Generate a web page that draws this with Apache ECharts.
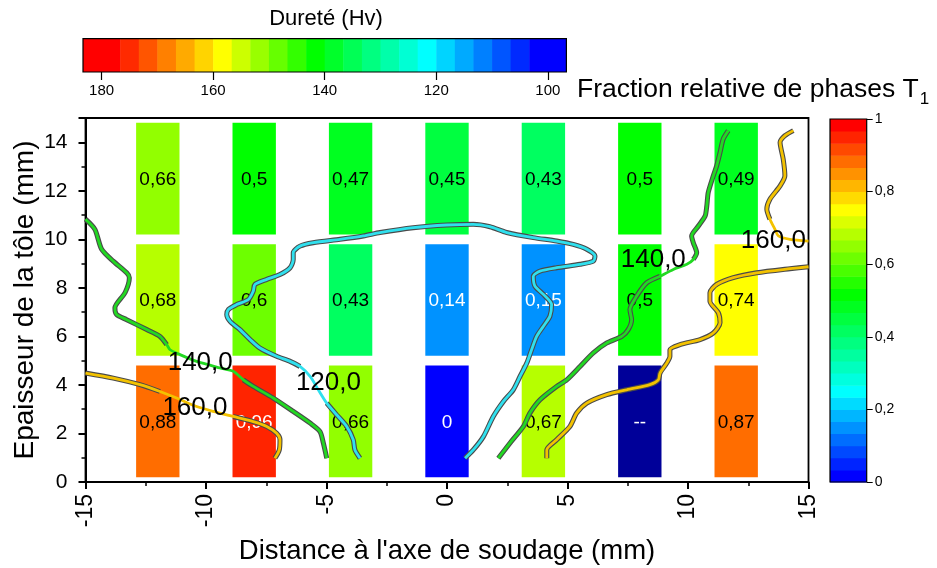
<!DOCTYPE html>
<html>
<head>
<meta charset="utf-8">
<script src="https://cdn.jsdelivr.net/npm/echarts@6/dist/echarts.min.js"></script>
<style>html,body{margin:0;padding:0;background:#fff;}#c{width:937px;height:568px;}</style>
</head>
<body>
<div id="c"></div>
<script>
// ---------- DATA ----------
const colX = [-12, -8, -4, 0, 4, 8, 12];
const rowY = [2.5, 7.5, 12.5];
const fracBottom = [0.88, 0.96, 0.66, 0, 0.67, null, 0.87];
const fracMiddle = [0.68, 0.6, 0.43, 0.14, 0.15, 0.5, 0.74];
const fracTop = [0.66, 0.5, 0.47, 0.45, 0.43, 0.5, 0.49];

const hardTicks = [100, 120, 140, 160, 180];

// contour lines (Hv)
const green140Left = [[-15,10.83],[-14.61,10.41],[-14.33,9.59],[-13.85,9.10],[-13.29,8.62],[-13.18,8.42],[-13.36,7.80],[-13.78,7.18],[-13.71,6.90],[-13.29,6.69],[-12.46,6.28],[-11.91,6.00],[-11.63,5.66],[-11.49,5.45],[-11.08,5.25],[-10.39,4.97],[-9.42,4.70],[-8.87,4.56],[-8.45,4.21],[-8.04,3.94],[-7.21,3.46],[-6.38,2.91],[-5.68,2.43],[-5.27,2.08],[-5.13,1.60],[-4.99,0.98]];
const yellow160Left = [[-15,4.49],[-13.85,4.28],[-12.74,4.01],[-11.91,3.73],[-11.22,3.46],[-10.39,3.11],[-9.70,2.91],[-8.87,2.70],[-8.04,2.49],[-7.48,2.29],[-7.07,2.01],[-6.93,1.74],[-6.96,1.32],[-7.14,0.98]];
const cyan120 = [[-3.61,0.98],[-3.82,1.32],[-3.89,1.74],[-4.16,2.29],[-4.58,2.77],[-4.99,3.25],[-5.34,3.80],[-5.68,4.35],[-6.10,4.76],[-6.51,4.97],[-7.07,5.18],[-7.76,5.52],[-8.17,5.87],[-8.59,6.28],[-9.00,6.62],[-9.14,6.90],[-9.07,7.11],[-8.73,7.31],[-8.24,7.52],[-8.04,7.86],[-7.97,8.14],[-7.48,8.35],[-6.93,8.55],[-6.51,8.83],[-6.38,9.17],[-6.38,9.45],[-6.10,9.72],[-5.55,9.86],[-4.44,10.00],[-3.47,10.14],[-2.78,10.28],[-1.40,10.48],[-0.01,10.59],[1.09,10.62],[1.78,10.52],[2.48,10.28],[3.58,10.07],[4.55,9.93],[5.24,9.79],[5.80,9.59],[6.14,9.31],[6.07,9.10],[5.52,8.97],[4.55,8.83],[3.86,8.69],[3.58,8.48],[3.65,8.07],[4.00,7.73],[4.34,7.31],[4.27,6.83],[4.00,6.42],[3.72,6.00],[3.51,5.45],[3.31,4.90],[3.03,4.35],[2.75,3.80],[2.34,3.32],[1.92,2.70],[1.51,1.87],[1.09,1.32],[0.75,0.98]];
const green140Right = [[2.13,0.98],[2.61,1.60],[3.17,2.29],[3.44,2.84],[3.86,3.39],[4.55,3.94],[4.97,4.21],[5.52,4.76],[6.07,5.32],[6.63,5.73],[7.25,6.00],[7.52,6.28],[7.66,6.69],[7.59,7.11],[7.87,7.66],[8.29,8.21],[8.84,8.48],[9.39,8.76],[9.95,8.97],[10.22,9.17],[10.36,9.45],[10.22,9.86],[10.15,10.14],[10.43,10.55],[10.71,10.96],[10.78,11.38],[10.84,11.93],[11.05,12.62],[11.19,13.03],[11.33,13.58],[11.46,14.13],[11.67,14.48]];
const yellow160Right = [[4.14,0.98],[4.14,1.32],[4.55,1.74],[5.10,2.29],[5.38,2.84],[5.80,3.25],[6.63,3.60],[7.46,3.80],[8.42,4.01],[8.77,4.21],[8.84,4.49],[9.12,4.90],[9.25,5.18],[9.25,5.45],[9.67,5.66],[10.50,5.87],[11.05,6.14],[11.33,6.56],[11.26,6.97],[10.91,7.45],[10.91,7.80],[11.19,8.14],[11.88,8.42],[12.85,8.62],[14.23,8.79],[15,8.87]];
const yellow160Top = [[14.37,14.48],[14.02,14.27],[13.82,14.00],[13.95,13.31],[14.02,12.62],[13.82,12.20],[13.40,11.65],[13.27,11.24],[13.40,10.83],[13.61,10.41],[13.75,10.14],[14.23,10.00],[15,9.93]];

const labelText = ['140,0', '160,0', '120,0', '140,0', '160,0'];
const labelX = [-10.24, -10.46, -4.92, 8.56, 13.54];
const labelY = [4.90, 3.04, 4.08, 9.17, 9.93];

// colour scales
const hardLevels = [183.33, 176.67, 173.33, 170, 166.67, 163.33, 160, 156.67, 153.33, 150, 146.67, 143.33, 140, 136.67, 133.33, 130, 126.67, 123.33, 120, 116.67, 113.33, 110, 106.67, 103.33, 96.67];
const hardPalette = ['#ff0000','#ff2a00','#ff5500','#ff8000','#ffaa00','#ffd400','#ffff00','#ccff00','#99ff00','#66ff00','#33ff00','#00ff00','#00ff2a','#00ff55','#00ff80','#00ffaa','#00ffd4','#00ffff','#00d4ff','#00aaff','#0080ff','#0055ff','#002aff','#0000ff'];
const fracPalette = ['#0000ff','#0024ff','#0049ff','#006dff','#0092ff','#00b6ff','#00dbff','#00ffff','#00ffdf','#00ffbf','#00ff9f','#00ff80','#00ff60','#00ff40','#00ff20','#00ff00','#24ff00','#49ff00','#6dff00','#92ff00','#b6ff00','#dbff00','#ffff00','#ffdb00','#ffb600','#ff9200','#ff6d00','#ff4900','#ff2400','#ff0000'];

// ---------- STYLE ----------
const FONT = 'Liberation Sans, Arial, Helvetica, sans-serif';
const CELL_W = 1.8, CELL_H = 4.6;
const MISSING_COLOR = '#000099';
const GAP_DX = 1.5, GAP_DY = 0.6;
const C160 = '#f3c200', C140 = '#22d822', C120 = '#30e0ee';

function fracColor(v) {
  if (v === null) return MISSING_COLOR;
  const i = Math.min(fracPalette.length - 1, Math.floor(v * fracPalette.length + 1e-9));
  return fracPalette[i];
}
function fracText(v) { return v === null ? '--' : String(v).replace('.', ','); }
function textColor(v) { return (v === null || v < 0.2 || v > 0.95) ? '#ffffff' : '#000000'; }

const cells = [];
[fracBottom, fracMiddle, fracTop].forEach((row, r) => {
  row.forEach((v, c) => cells.push({ x: colX[c], y: rowY[r], v: v }));
});

function withGaps(pts) {
  return pts.map(p => labelX.some((lx, i) => Math.abs(p[0] - lx) < GAP_DX && Math.abs(p[1] - labelY[i]) < GAP_DY) ? [p[0], '-'] : p);
}

const contours = [
  { d: green140Left, c: C140 }, { d: yellow160Left, c: C160 }, { d: cyan120, c: C120 },
  { d: green140Right, c: C140 }, { d: yellow160Right, c: C160 }, { d: yellow160Top, c: C160 }
];

const series = [];
series.push({
  type: 'custom', xAxisIndex: 0, yAxisIndex: 0, z: 2, silent: true,
  data: cells.map(c => [c.x, c.y]),
  encode: { x: 0, y: 1 },
  renderItem: function (params, api) {
    const it = cells[params.dataIndex];
    const p0 = api.coord([it.x - CELL_W / 2, it.y - CELL_H / 2]);
    const p1 = api.coord([it.x + CELL_W / 2, it.y + CELL_H / 2]);
    return {
      type: 'group', children: [
        { type: 'rect', shape: { x: p0[0], y: p1[1], width: p1[0] - p0[0], height: p0[1] - p1[1] }, style: { fill: fracColor(it.v) } },
        { type: 'text', x: (p0[0] + p1[0]) / 2, y: (p0[1] + p1[1]) / 2 + 1,
          style: { text: fracText(it.v), fill: textColor(it.v), fontSize: 19, fontFamily: FONT, align: 'center', verticalAlign: 'middle' } }
      ]
    };
  }
});
contours.forEach(ct => {
  series.push({ type: 'line', xAxisIndex: 0, yAxisIndex: 0, z: 3, silent: true, showSymbol: false, smooth: 0.25, connectNulls: false,
    data: withGaps(ct.d), lineStyle: { color: '#4a4a4a', width: 5 } });
});
contours.forEach(ct => {
  series.push({ type: 'line', xAxisIndex: 0, yAxisIndex: 0, z: 4, silent: true, showSymbol: false, smooth: 0.25,
    data: ct.d, lineStyle: { color: ct.c, width: 2.8 } });
});
// contour value labels, placed in data coordinates
series.push({
  type: 'custom', xAxisIndex: 0, yAxisIndex: 0, z: 6, silent: true,
  data: labelX.map((x, i) => [x, labelY[i]]),
  encode: { x: 0, y: 1 },
  renderItem: function (params, api) {
    const p = api.coord([labelX[params.dataIndex], labelY[params.dataIndex]]);
    return { type: 'text', x: p[0], y: p[1],
      style: { text: labelText[params.dataIndex], fill: '#000', fontSize: 26, fontFamily: FONT, align: 'center', verticalAlign: 'middle' } };
  }
});
// fraction colour bar
series.push({
  type: 'custom', xAxisIndex: 1, yAxisIndex: 1, silent: true, z: 2,
  data: fracPalette.map((c, i) => [0.5, i]),
  renderItem: function (params, api) {
    const i = params.dataIndex, n = fracPalette.length;
    const p0 = api.coord([0, i / n]);
    const p1 = api.coord([1, (i + 1) / n]);
    return { type: 'rect', shape: { x: p0[0], y: p1[1], width: p1[0] - p0[0], height: p0[1] - p1[1] + 0.5 }, style: { fill: fracPalette[i] } };
  }
});
series.push({
  type: 'custom', xAxisIndex: 1, yAxisIndex: 1, silent: true, z: 3, data: [[0.5, 0.5]],
  renderItem: function (params, api) {
    const p0 = api.coord([0, 0]), p1 = api.coord([1, 1]);
    return { type: 'rect', shape: { x: p0[0], y: p1[1], width: p1[0] - p0[0], height: p0[1] - p1[1] }, style: { fill: 'none', stroke: '#000', lineWidth: 1.2 } };
  }
});
// hardness colour bar
series.push({
  type: 'custom', xAxisIndex: 2, yAxisIndex: 2, silent: true, z: 2,
  data: hardPalette.map((c, i) => [hardLevels[i], 0.5]),
  renderItem: function (params, api) {
    const i = params.dataIndex;
    const p0 = api.coord([hardLevels[i], 0]);
    const p1 = api.coord([hardLevels[i + 1], 1]);
    const x = Math.min(p0[0], p1[0]);
    return { type: 'rect', shape: { x: x, y: p1[1], width: Math.abs(p1[0] - p0[0]) + 0.5, height: p0[1] - p1[1] }, style: { fill: hardPalette[i] } };
  }
});
series.push({
  type: 'custom', xAxisIndex: 2, yAxisIndex: 2, silent: true, z: 3, data: [[140, 0.5]],
  renderItem: function (params, api) {
    const p0 = api.coord([hardLevels[0], 0]), p1 = api.coord([hardLevels[hardLevels.length - 1], 1]);
    const x = Math.min(p0[0], p1[0]);
    return { type: 'rect', shape: { x: x, y: p1[1], width: Math.abs(p1[0] - p0[0]), height: p0[1] - p1[1] }, style: { fill: 'none', stroke: '#000', lineWidth: 1.2 } };
  }
});

const option = {
  animation: false,
  backgroundColor: '#fff',
  grid: [
    { left: 85.5, right: 128.5, top: 118, bottom: 86, show: true, borderColor: '#000', borderWidth: 1.8, backgroundColor: 'transparent', containLabel: false, outerBoundsMode: 'none' },
    { left: 830, top: 119, width: 36.7, height: 363, containLabel: false, outerBoundsMode: 'none' },
    { left: 83, top: 38.6, width: 483.4, height: 33.4, containLabel: false, outerBoundsMode: 'none' }
  ],
  xAxis: [
    { gridIndex: 0, type: 'value', min: -15, max: 15, interval: 5,
      axisLine: { onZero: false, lineStyle: { color: '#000', width: 2 } },
      axisTick: { length: 7, lineStyle: { color: '#000', width: 2 } },
      minorTick: { show: true, splitNumber: 2, length: 4, lineStyle: { color: '#000', width: 1.5 } },
      splitLine: { show: false },
      axisLabel: { rotate: 90, fontSize: 23, color: '#000', margin: 12, fontFamily: FONT },
      name: "Distance à l'axe de soudage (mm)", nameLocation: 'middle', nameGap: 55,
      nameTextStyle: { fontSize: 27.5, color: '#000', fontFamily: FONT } },
    { gridIndex: 1, type: 'value', min: 0, max: 1, show: false },
    { gridIndex: 2, type: 'value', min: hardLevels[hardLevels.length - 1], max: hardLevels[0], inverse: true, position: 'bottom',
      axisLine: { show: false, onZero: false },
      axisTick: { show: true, customValues: hardTicks, length: 8, lineStyle: { color: '#000', width: 1.2 } },
      axisLabel: { show: true, customValues: hardTicks, fontSize: 15, color: '#000', margin: 11, fontFamily: FONT },
      splitLine: { show: false } }
  ],
  yAxis: [
    { gridIndex: 0, type: 'value', min: 0, max: 15, interval: 2,
      axisLine: { onZero: false, lineStyle: { color: '#000', width: 2 } },
      axisTick: { length: 7, lineStyle: { color: '#000', width: 2 } },
      minorTick: { show: true, splitNumber: 2, length: 4, lineStyle: { color: '#000', width: 1.5 } },
      splitLine: { show: false },
      axisLabel: { fontSize: 21, color: '#000', margin: 18, fontFamily: FONT, showMaxLabel: false },
      name: 'Epaisseur de la tôle (mm)', nameLocation: 'middle', nameGap: 46, nameRotate: 90, nameMoveOverlap: false,
      nameTextStyle: { fontSize: 28, color: '#000', fontFamily: FONT } },
    { gridIndex: 1, type: 'value', min: 0, max: 1, interval: 0.2, position: 'right',
      axisLine: { show: false, onZero: false },
      axisTick: { show: true, length: 6, lineStyle: { color: '#000', width: 1 } },
      axisLabel: { fontSize: 14, color: '#000', margin: 8, fontFamily: FONT,
        formatter: v => String(Math.round(v * 10) / 10).replace('.', ',') },
      splitLine: { show: false } },
    { gridIndex: 2, type: 'value', min: 0, max: 1, show: false }
  ],
  graphic: [
    { type: 'text', x: 326, y: 19, style: { text: 'Dureté (Hv)', fontSize: 22, fontFamily: FONT, fill: '#000', align: 'center', verticalAlign: 'middle' } },
    { type: 'text', x: 577, y: 90, style: { text: '{a|Fraction relative de phases T}{s|1}', fontFamily: FONT, fill: '#000', align: 'left', verticalAlign: 'middle',
      rich: { a: { fontSize: 26.5, fontFamily: FONT, fill: '#000' }, s: { fontSize: 17, fontFamily: FONT, fill: '#000', padding: [18, 0, 0, 1] } } } }
  ],
  series: series
};

const chart = echarts.init(document.getElementById('c'), null, { renderer: 'canvas' });
chart.setOption(option);
</script>
</body>
</html>
